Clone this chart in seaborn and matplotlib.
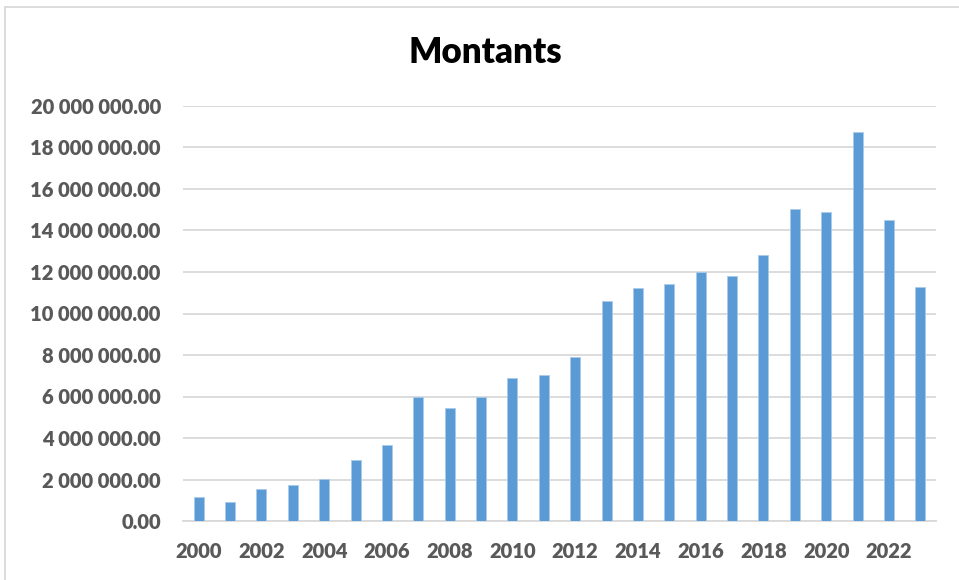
import pandas as pd
import matplotlib.pyplot as plt
import seaborn as sns
from matplotlib.lines import Line2D
from matplotlib.ticker import FuncFormatter, FixedLocator

years = [str(y) for y in range(2000, 2024)]
montants = [1170000, 900000, 1540000, 1750000, 2040000, 2940000, 3660000, 5990000,
            5430000, 6000000, 6910000, 7040000, 7890000, 10600000, 11230000, 11420000,
            11980000, 11820000, 12820000, 15020000, 14880000, 18750000, 14520000, 11290000]
y_ticks = [0, 2000000, 4000000, 6000000, 8000000, 10000000, 12000000, 14000000,
           16000000, 18000000, 20000000]

sns.set_style('white')
plt.rcParams['font.family'] = ['Lato', 'DejaVu Sans']

df = pd.DataFrame({'Annee': years, 'Montant': montants})

fig = plt.figure(figsize=(9.59, 5.8), dpi=100)
ax = fig.add_axes([183 / 959, 1 - 521 / 580, (936 - 183) / 959, (521 - 106) / 580])
sns.barplot(x='Annee', y='Montant', data=df, ax=ax, color='#5B9BD5', width=0.32,
            edgecolor='#A9CBEA', linewidth=0.6, saturation=1, zorder=3)

grey = '#D9D9D9'
ax.set_xlim(-0.5, len(years) - 0.5)
ax.set_ylim(0, 20000000)
ax.set_yticks(y_ticks)
ax.yaxis.set_major_formatter(FuncFormatter(lambda v, p: f'{v:,.2f}'.replace(',', ' ')))
ax.grid(axis='y', color=grey, linewidth=1.3, zorder=0)
ax.grid(axis='x', visible=False)

ax.set_xticks(range(0, len(years), 2))
ax.set_xticklabels(years[::2])
ax.xaxis.set_minor_locator(FixedLocator([i - 0.5 for i in range(0, len(years) + 1, 2)]))
ax.tick_params(axis='x', which='major', length=0, pad=15)
ax.tick_params(axis='x', which='minor', length=6, width=1.3, color=grey)
ax.tick_params(axis='y', length=0, pad=16)
for lab in ax.get_xticklabels() + ax.get_yticklabels():
    lab.set_fontsize(14.5)
    lab.set_fontweight('heavy')
    lab.set_color('#595959')

for s in ['left', 'right', 'top']:
    ax.spines[s].set_visible(False)
ax.spines['bottom'].set_color(grey)
ax.spines['bottom'].set_linewidth(1.3)
ax.set_xlabel('')
ax.set_ylabel('')

fig.text(485 / 959, 1 - 63 / 580, 'Montants', ha='center', va='baseline',
         fontsize=25, fontweight='heavy', color='black')

# chart area border (only top and left visible)
fig.add_artist(Line2D([5 / 959, 5 / 959], [0, 1 - 7 / 580], color=grey, linewidth=1.3))
fig.add_artist(Line2D([5 / 959, 1], [1 - 7 / 580, 1 - 7 / 580], color=grey, linewidth=1.3))

plt.savefig('out.png', dpi=100)
